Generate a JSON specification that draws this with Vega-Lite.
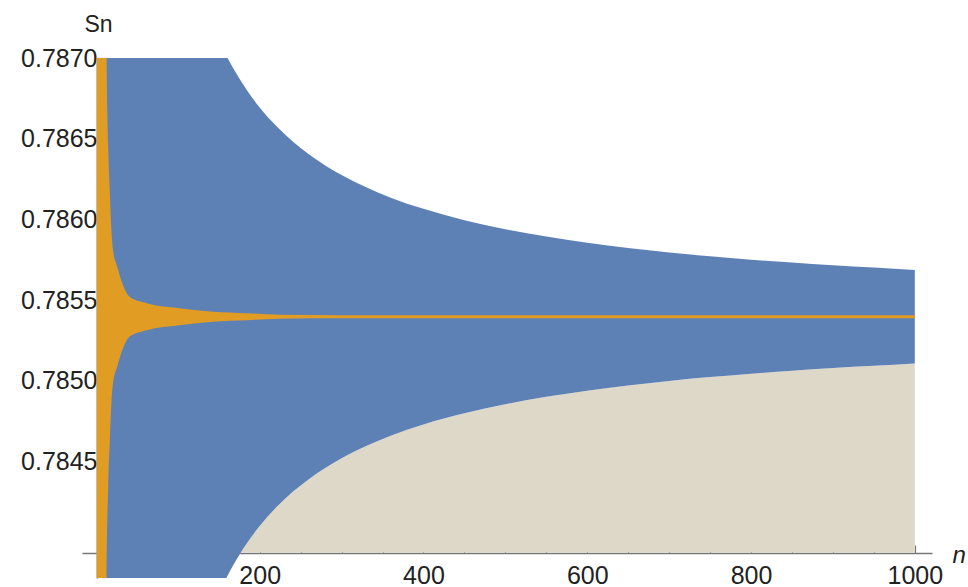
{
  "$schema": "https://vega.github.io/schema/vega-lite/v6.json",
  "width": 850,
  "height": 520,
  "autosize": {"type": "none"},
  "padding": {"left": 82, "top": 58, "right": 36, "bottom": 9},
  "background": "white",
  "config": {
    "view": {"stroke": null},
    "axis": {
      "grid": false,
      "domainColor": "#777777",
      "domainWidth": 1.4,
      "tickColor": "#777777",
      "tickWidth": 1.2,
      "labelFont": "Liberation Sans",
      "labelFontSize": 25,
      "labelColor": "#222222",
      "titleFont": "Liberation Sans",
      "titleColor": "#222222",
      "titleFontWeight": "normal",
      "labelFlush": false,
      "labelOverlap": false,
      "labelBound": false,
      "zindex": 1
    }
  },
  "datasets": {
    "blue": [
      {"n": 1, "lo": 0.783, "hi": 0.788},
      {"n": 100, "lo": 0.782845, "hi": 0.787951},
      {"n": 140, "lo": 0.783563, "hi": 0.787233},
      {"n": 150, "lo": 0.783683, "hi": 0.787113},
      {"n": 160, "lo": 0.783788, "hi": 0.787008},
      {"n": 170, "lo": 0.78388, "hi": 0.786916},
      {"n": 180, "lo": 0.783962, "hi": 0.786834},
      {"n": 190, "lo": 0.784036, "hi": 0.78676},
      {"n": 200, "lo": 0.784102, "hi": 0.786694},
      {"n": 220, "lo": 0.784216, "hi": 0.78658},
      {"n": 240, "lo": 0.784312, "hi": 0.786485},
      {"n": 260, "lo": 0.784392, "hi": 0.786404},
      {"n": 280, "lo": 0.784461, "hi": 0.786335},
      {"n": 300, "lo": 0.784521, "hi": 0.786275},
      {"n": 330, "lo": 0.784597, "hi": 0.786199},
      {"n": 360, "lo": 0.784661, "hi": 0.786135},
      {"n": 400, "lo": 0.784731, "hi": 0.786066},
      {"n": 450, "lo": 0.7848, "hi": 0.785996},
      {"n": 500, "lo": 0.784856, "hi": 0.78594},
      {"n": 550, "lo": 0.784902, "hi": 0.785894},
      {"n": 600, "lo": 0.78494, "hi": 0.785856},
      {"n": 650, "lo": 0.784972, "hi": 0.785824},
      {"n": 700, "lo": 0.785, "hi": 0.785796},
      {"n": 750, "lo": 0.785024, "hi": 0.785772},
      {"n": 800, "lo": 0.785045, "hi": 0.785751},
      {"n": 850, "lo": 0.785063, "hi": 0.785733},
      {"n": 900, "lo": 0.78508, "hi": 0.785716},
      {"n": 950, "lo": 0.785094, "hi": 0.785702},
      {"n": 1000, "lo": 0.785108, "hi": 0.785688}
    ],
    "orange": [
      {"n": 1, "lo": 0.783, "hi": 0.788},
      {"n": 12, "lo": 0.783, "hi": 0.788},
      {"n": 13, "lo": 0.783789, "hi": 0.787007},
      {"n": 15, "lo": 0.784346, "hi": 0.78645},
      {"n": 17, "lo": 0.784631, "hi": 0.786165},
      {"n": 19, "lo": 0.784872, "hi": 0.785924},
      {"n": 21, "lo": 0.78499, "hi": 0.785806},
      {"n": 26, "lo": 0.785089, "hi": 0.785707},
      {"n": 32, "lo": 0.785188, "hi": 0.785608},
      {"n": 41, "lo": 0.785274, "hi": 0.785522},
      {"n": 62, "lo": 0.785314, "hi": 0.785482},
      {"n": 102, "lo": 0.785345, "hi": 0.785451},
      {"n": 143, "lo": 0.785367, "hi": 0.785429},
      {"n": 184, "lo": 0.785376, "hi": 0.78542},
      {"n": 224, "lo": 0.785386, "hi": 0.78541},
      {"n": 300, "lo": 0.785389, "hi": 0.785407},
      {"n": 1000, "lo": 0.785389, "hi": 0.785407}
    ]
  },
  "layer": [
    {
      "data": {"name": "blue"},
      "mark": {"type": "area", "clip": true, "color": "#DED8C9", "opacity": 1, "interpolate": "monotone"},
      "encoding": {
        "x": {
          "field": "n", "type": "quantitative",
          "scale": {"domain": [-17, 1021], "nice": false, "zero": false},
          "axis": {
            "orient": "bottom", "offset": -25,
            "values": [200, 400, 600, 800, 1000],
            "format": "d",
            "tickSize": -8, "labelPadding": 18,
            "title": "n", "titleFontStyle": "italic", "titleFontSize": 24,
            "titleX": 870, "titleY": 9, "titleAlign": "left", "titleBaseline": "alphabetic"
          }
        },
        "y": {
          "field": "lo", "type": "quantitative",
          "scale": {"domain": [0.78378, 0.787], "nice": false, "zero": false},
          "axis": {
            "orient": "left", "offset": -15,
            "values": [0.7845, 0.785, 0.7855, 0.786, 0.7865, 0.787],
            "format": ".4f",
            "tickSize": -8, "labelPadding": 8,
            "title": "Sn", "titleAngle": 0, "titleFontSize": 23,
            "titleX": 1, "titleY": -34, "titleAlign": "center", "titleBaseline": "middle"
          }
        },
        "y2": {"datum": 0.783938}
      }
    },
    {
      "data": {"name": "blue"},
      "mark": {"type": "area", "clip": true, "color": "#5E81B5", "opacity": 1, "interpolate": "monotone"},
      "encoding": {
        "x": {
          "field": "n", "type": "quantitative",
          "axis": {
            "orient": "bottom", "offset": -25,
            "values": [50, 100, 150, 250, 300, 350, 450, 500, 550, 650, 700, 750, 850, 900, 950],
            "tickSize": -4.5, "labels": false, "domain": false, "title": null
          }
        },
        "y": {
          "field": "lo", "type": "quantitative",
          "axis": {
            "orient": "left", "offset": -15,
            "values": [0.7838, 0.7839, 0.784, 0.7841, 0.7842, 0.7843, 0.7844, 0.7846, 0.7847, 0.7848, 0.7849, 0.7851, 0.7852, 0.7853, 0.7854, 0.7856, 0.7857, 0.7858, 0.7859, 0.7861, 0.7862, 0.7863, 0.7864, 0.7866, 0.7867, 0.7868, 0.7869],
            "tickSize": -5, "labels": false, "domain": false, "title": null
          }
        },
        "y2": {"field": "hi"}
      }
    },
    {
      "data": {"name": "orange"},
      "mark": {"type": "area", "clip": true, "color": "#E19C24", "opacity": 1, "interpolate": "monotone"},
      "encoding": {
        "x": {"field": "n", "type": "quantitative", "axis": null},
        "y": {"field": "lo", "type": "quantitative", "axis": null},
        "y2": {"field": "hi"}
      }
    }
  ],
  "resolve": {"axis": {"x": "independent", "y": "independent"}}
}
